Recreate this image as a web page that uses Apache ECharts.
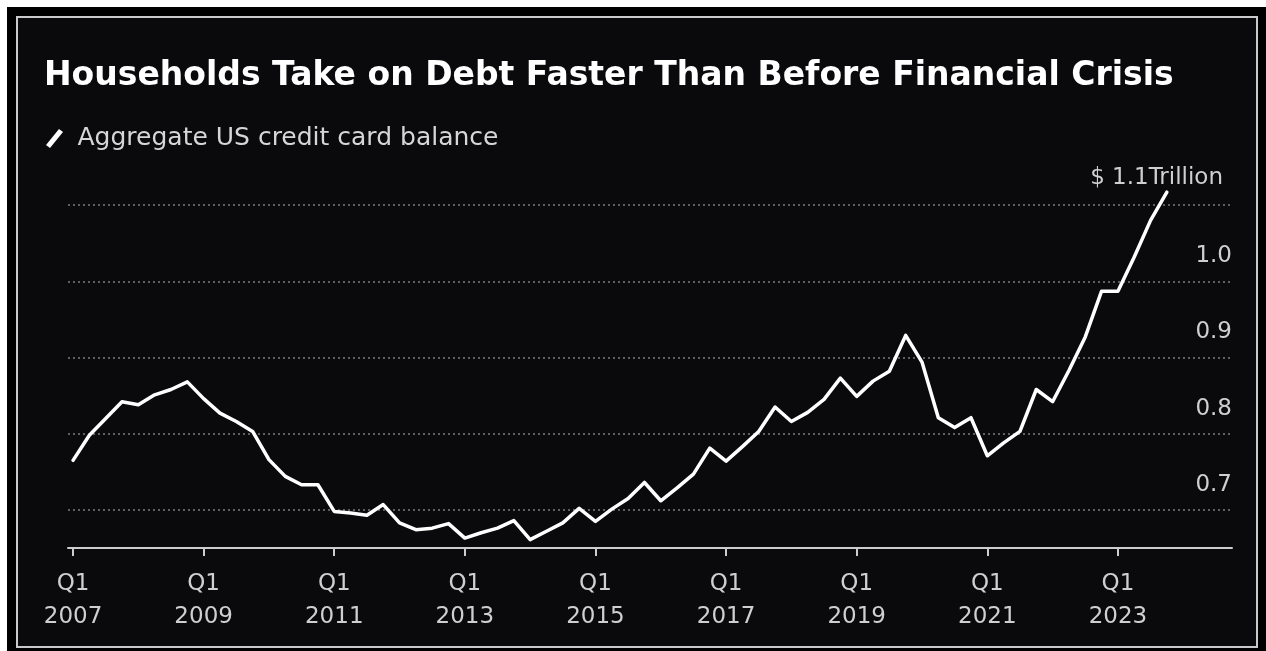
<!DOCTYPE html>
<html>
<head>
<meta charset="utf-8">
<script src="https://cdn.jsdelivr.net/npm/echarts@6/dist/echarts.min.js"></script>
<style>
  html, body { margin: 0; padding: 0; background: #ffffff; width: 1266px; height: 651px; overflow: hidden; }
  #outer { position: absolute; left: 7px; top: 7px; width: 1259px; height: 644px; background: #000; }
  #inner { position: absolute; left: 16px; top: 16px; width: 1242px; height: 632px; background: #0a0a0c; border: 2px solid #c9c9c9; box-sizing: border-box; }
  #chart { position: absolute; left: 0; top: 0; width: 1266px; height: 651px; }
</style>
</head>
<body>
<div id="outer"></div>
<div id="inner"></div>
<div id="chart"></div>
<script>
const titleText = 'Households Take on Debt Faster Than Before Financial Crisis';
const seriesName = 'Aggregate US credit card balance';

const categories = [
  '2007 Q1','2007 Q2','2007 Q3','2007 Q4','2008 Q1','2008 Q2','2008 Q3','2008 Q4',
  '2009 Q1','2009 Q2','2009 Q3','2009 Q4','2010 Q1','2010 Q2','2010 Q3','2010 Q4',
  '2011 Q1','2011 Q2','2011 Q3','2011 Q4','2012 Q1','2012 Q2','2012 Q3','2012 Q4',
  '2013 Q1','2013 Q2','2013 Q3','2013 Q4','2014 Q1','2014 Q2','2014 Q3','2014 Q4',
  '2015 Q1','2015 Q2','2015 Q3','2015 Q4','2016 Q1','2016 Q2','2016 Q3','2016 Q4',
  '2017 Q1','2017 Q2','2017 Q3','2017 Q4','2018 Q1','2018 Q2','2018 Q3','2018 Q4',
  '2019 Q1','2019 Q2','2019 Q3','2019 Q4','2020 Q1','2020 Q2','2020 Q3','2020 Q4',
  '2021 Q1','2021 Q2','2021 Q3','2021 Q4','2022 Q1','2022 Q2','2022 Q3','2022 Q4',
  '2023 Q1','2023 Q2','2023 Q3','2023 Q4'
];

// Aggregate US credit card balance, $ trillions
const balance = [
  0.765, 0.798, 0.820, 0.842, 0.838, 0.851, 0.858, 0.868,
  0.846, 0.827, 0.816, 0.803, 0.766, 0.744, 0.733, 0.733,
  0.698, 0.696, 0.693, 0.707, 0.683, 0.674, 0.676, 0.682,
  0.663, 0.670, 0.676, 0.686, 0.661, 0.672, 0.683, 0.702,
  0.685, 0.701, 0.715, 0.736, 0.712, 0.729, 0.747, 0.781,
  0.764, 0.783, 0.803, 0.835, 0.816, 0.828, 0.845, 0.873,
  0.849, 0.869, 0.882, 0.929, 0.894, 0.821, 0.808, 0.821,
  0.771, 0.788, 0.803, 0.858, 0.842, 0.883, 0.927, 0.987,
  0.987, 1.032, 1.080, 1.117
];

const xTickYears = [2007, 2009, 2011, 2013, 2015, 2017, 2019, 2021, 2023];
const xTickPrefix = 'Q1';
const yTicks = [0.7, 0.8, 0.9, 1.0, 1.1];
const yTopLabel = '$ 1.1Trillion';

function quarterToYear(s) {
  const y = parseInt(s.slice(0, 4), 10);
  const q = parseInt(s.slice(6), 10);
  return y + (q - 1) / 4;
}
const points = categories.map((c, i) => [quarterToYear(c), balance[i]]);

const chart = echarts.init(document.getElementById('chart'), null, { renderer: 'canvas' });
const FONT = 'DejaVu Sans';

chart.setOption({
  backgroundColor: 'transparent',
  animation: false,
  title: {
    text: titleText,
    left: 39,
    top: 55,
    textStyle: { color: '#ffffff', fontFamily: FONT, fontWeight: 'bold', fontSize: 33 }
  },
  legend: {
    left: 41,
    top: 121,
    itemWidth: 18,
    itemHeight: 19,
    data: [{
      name: seriesName,
      icon: 'path://M0,16 L13,0 L17,3 L4,19 Z',
      itemStyle: { color: '#ffffff' }
    }],
    textStyle: { color: '#d6d6d6', fontFamily: FONT, fontSize: 25, padding: [0, 0, 0, 9] }
  },
  grid: { left: 68, right: 34, top: 167, bottom: 103, containLabel: false },
  xAxis: {
    type: 'value',
    min: 2006.923,
    max: 2024.747,
    axisLine: { onZero: false, lineStyle: { color: '#cdcdcd', width: 2 } },
    axisTick: { show: true, customValues: xTickYears, length: 8, lineStyle: { color: '#cdcdcd', width: 2 } },
    axisLabel: {
      customValues: xTickYears,
      formatter: v => xTickPrefix + '\n' + v,
      color: '#cfcfcf',
      fontFamily: FONT,
      fontSize: 23,
      lineHeight: 33,
      margin: 20
    },
    splitLine: { show: false }
  },
  yAxis: {
    type: 'value',
    position: 'right',
    min: 0.65,
    max: 1.15,
    interval: 0.05,
    axisLine: { show: false },
    axisTick: { show: false },
    splitLine: {
      show: true,
      lineStyle: { color: ['rgba(0,0,0,0)', '#7c7c7c'], type: [2, 3], width: 1.5 }
    },
    axisLabel: {
      inside: true,
      margin: 0,
      align: 'right',
      verticalAlign: 'bottom',
      lineHeight: 50,
      color: '#cfcfcf',
      fontFamily: FONT,
      fontSize: 23,
      formatter: v => {
        const hit = yTicks.find(t => Math.abs(t - v) < 1e-6);
        if (hit === undefined) return '';
        if (hit === yTicks[yTicks.length - 1]) return '{t|' + yTopLabel + '}';
        return hit.toFixed(1);
      },
      rich: {
        t: { color: '#cfcfcf', fontFamily: FONT, fontSize: 23, lineHeight: 54, padding: [0, 9, 0, 0] }
      }
    }
  },
  series: [{
    name: seriesName,
    type: 'line',
    data: points,
    showSymbol: false,
    smooth: false,
    lineStyle: { color: '#ffffff', width: 3.5, cap: 'round', join: 'round' },
    itemStyle: { color: '#ffffff' },
    z: 5
  }]
});
</script>
</body>
</html>
